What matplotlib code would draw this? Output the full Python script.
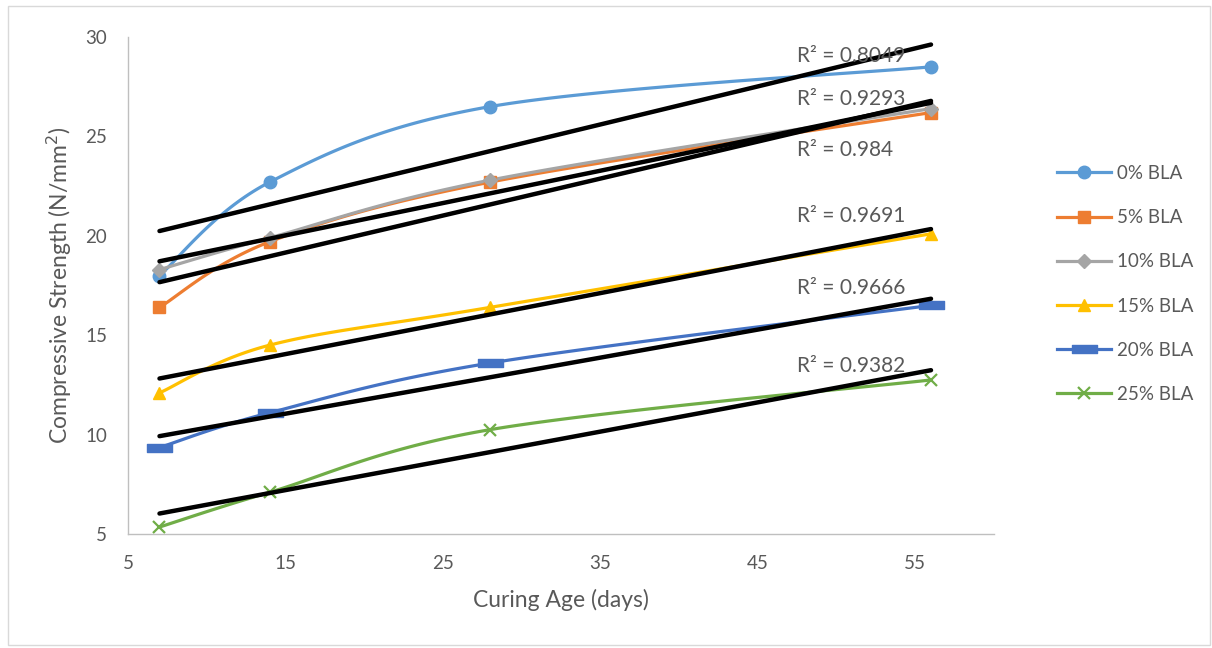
import numpy as np
import matplotlib
matplotlib.use("Agg")
import matplotlib.pyplot as plt
from matplotlib.path import Path
from matplotlib.patches import Rectangle

# ---- data ----
ages = [7, 14, 28, 56]
series_names = ["0% BLA", "5% BLA", "10% BLA", "15% BLA", "20% BLA", "25% BLA"]
bla0 = [18.0, 22.7, 26.5, 28.5]
bla5 = [16.4, 19.7, 22.7, 26.2]
bla10 = [18.3, 19.9, 22.8, 26.4]
bla15 = [12.1, 14.5, 16.4, 20.1]
bla20 = [9.35, 11.1, 13.6, 16.5]
bla25 = [5.35, 7.1, 10.25, 12.75]
r2_labels = ["R² = 0.8049", "R² = 0.9293", "R² = 0.984", "R² = 0.9691", "R² = 0.9666", "R² = 0.9382"]

series = [bla0, bla5, bla10, bla15, bla20, bla25]
colors = ["#5B9BD5", "#ED7D31", "#A5A5A5", "#FFC000", "#4472C4", "#70AD47"]
dash = Path([(-1, -0.3), (1, -0.3), (1, 0.3), (-1, 0.3), (-1, -0.3)],
            [Path.MOVETO, Path.LINETO, Path.LINETO, Path.LINETO, Path.CLOSEPOLY])
markers = ["o", "s", "D", "^", dash, "x"]
msizes = [9, 9, 7, 9, 18, 8]

FONT = ["Lato", "DejaVu Sans"]
plt.rcParams["font.family"] = FONT
TXT = "#595959"


def smooth(xs, ys, n=40):
    """Excel-style smoothed line (Bezier through points)."""
    P = np.column_stack([xs, ys]).astype(float)
    m = len(P)
    out = [P[0:1]]
    t = np.linspace(0, 1, n)[1:, None]
    for i in range(m - 1):
        p0 = P[i]
        p3 = P[i + 1]
        pm = P[i - 1] if i > 0 else P[i]
        pp = P[i + 2] if i + 2 < m else P[i + 1]
        c1 = p0 + (p3 - pm) / 6.0
        c2 = p3 - (pp - p0) / 6.0
        seg = ((1 - t) ** 3) * p0 + 3 * ((1 - t) ** 2) * t * c1 + 3 * (1 - t) * t ** 2 * c2 + t ** 3 * p3
        out.append(seg)
    out = np.vstack(out)
    return out[:, 0], out[:, 1]


fig = plt.figure(figsize=(12.12, 6.48), dpi=100)
fig.patches.append(Rectangle((8 / 1212, 3 / 648), 1202 / 1212, 639 / 648,
                             transform=fig.transFigure, fill=False,
                             edgecolor="#D9D9D9", linewidth=1.0))
ax = fig.add_axes([128 / 1212, 1 - 534 / 648, (994 - 128) / 1212, (534 - 37) / 648])

handles = []
for ys, c, mk, ms, name in zip(series, colors, markers, msizes, series_names):
    sx, sy = smooth(ages, ys)
    ax.plot(sx, sy, color=c, lw=2.3, zorder=3, solid_capstyle="round")
    mew = 1.6 if mk == "x" else 1.0
    ax.plot(ages, ys, linestyle="none", marker=mk, markersize=ms, zorder=4,
            markeredgecolor=c, markerfacecolor=c, markeredgewidth=mew)
    handles.append(plt.Line2D([], [], color=c, lw=2.3, marker=mk, markersize=ms,
                              markeredgewidth=mew, markerfacecolor=c, markeredgecolor=c))
    # linear trendline
    k, b = np.polyfit(ages, ys, 1)
    xt = np.array([ages[0], ages[-1]])
    ax.plot(xt, k * xt + b, color="black", lw=3.2, zorder=5, solid_capstyle="round")

# R² labels
r2_y = [29.05, 26.9, 24.3, 21.0, 17.35, 13.45]
for lab, yv in zip(r2_labels, r2_y):
    ax.text(47.5, yv, lab, fontsize=15, color=TXT, ha="left", va="center", zorder=6)

ax.set_xlim(5, 60)
ax.set_ylim(5, 30)
ax.set_xticks([5, 15, 25, 35, 45, 55])
ax.set_yticks([5, 10, 15, 20, 25, 30])
for s in ["top", "right"]:
    ax.spines[s].set_visible(False)
for s in ["left", "bottom"]:
    ax.spines[s].set_color("#BFBFBF")
    ax.spines[s].set_linewidth(1.0)
ax.tick_params(length=0, labelsize=13.5, labelcolor=TXT)
ax.tick_params(axis="x", pad=15)
ax.tick_params(axis="y", pad=15)
ax.set_xlabel("Curing Age (days)", fontsize=16.5, color=TXT, labelpad=12)
ax.set_ylabel("Compressive Strength (N/mm$^2$)", fontsize=16.5, color=TXT, labelpad=8)

leg = fig.legend(handles, series_names, loc="center left",
                 bbox_to_anchor=(1040 / 1212, 1 - 284 / 648), frameon=False,
                 fontsize=13.5, handlelength=2.9, handletextpad=0.3,
                 labelspacing=1.45, labelcolor=TXT)

fig.savefig("out.png", dpi=100)
